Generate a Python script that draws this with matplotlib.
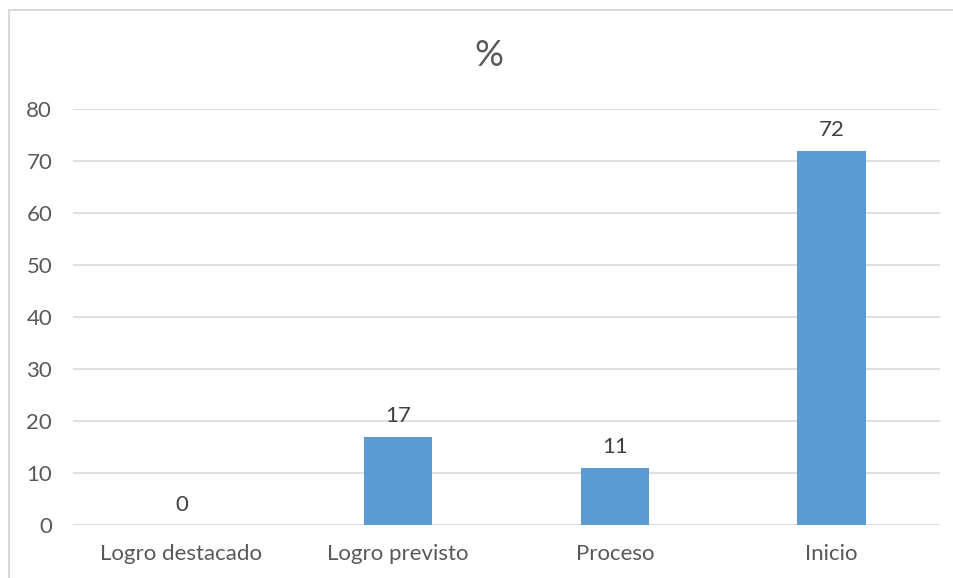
import matplotlib.pyplot as plt
from matplotlib.patches import Rectangle

# niveles de logro y porcentaje de estudiantes
categories = ["Logro destacado", "Logro previsto", "Proceso", "Inicio"]
percent = [0, 17, 11, 72]

plt.rcParams['font.family'] = ['Lato', 'DejaVu Sans']

fig = plt.figure(figsize=(9.54, 5.78), dpi=100)
ax = fig.add_axes([73 / 954, 1 - 525 / 578, 867 / 954, 416 / 578])

# marco del gráfico
fig.patches.append(Rectangle((9 / 954, -0.05), 1.0, 1 - 10 / 578 + 0.05,
                             transform=fig.transFigure, fill=False,
                             edgecolor="#d9d9d9", linewidth=1.5))

x = range(len(categories))
bars = ax.bar(x, percent, width=0.315, color="#5b9bd5", zorder=3)
for xi, v in zip(x, percent):
    ax.text(xi, v + 2.0, str(v), ha="center", va="bottom",
            fontsize=16, color="#404040")

ax.set_xlim(-0.5, 3.5)
ax.set_ylim(0, 80)
ax.set_yticks(range(0, 81, 10))
ax.set_xticks(list(x))
ax.set_xticklabels(categories)
ax.yaxis.grid(True, color="#d9d9d9", linewidth=1.2, zorder=0)
ax.tick_params(axis="both", length=0, labelsize=16, labelcolor="#595959")
ax.tick_params(axis="y", pad=15)
ax.tick_params(axis="x", pad=14)
for s in ax.spines.values():
    s.set_visible(False)

fig.text(0.512, 1 - 55 / 578, "%", ha="center", va="center",
         fontsize=26, color="#595959")

fig.savefig("out.png", dpi=100)
